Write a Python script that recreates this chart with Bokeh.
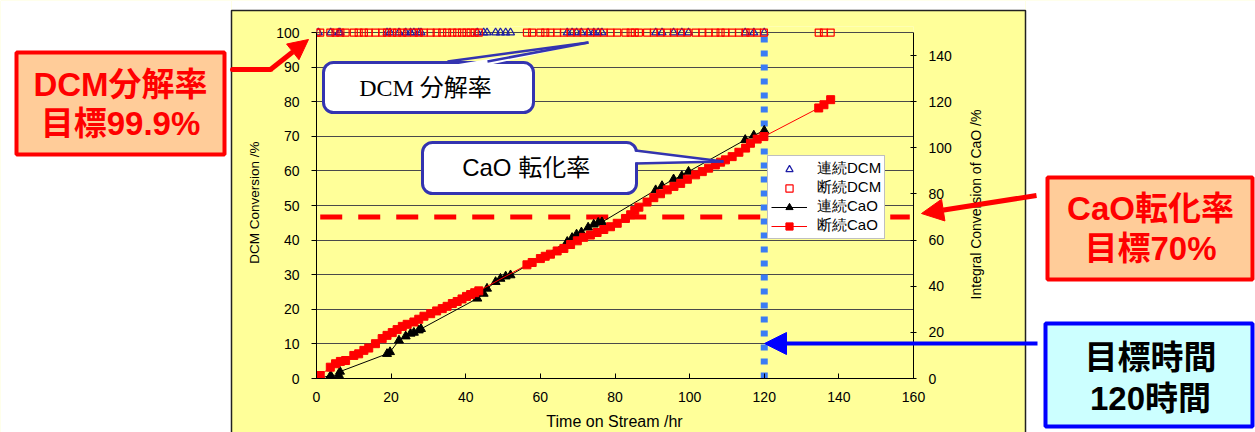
import math
from bokeh.plotting import figure
from bokeh.models import (ColumnDataSource, Range1d, LinearAxis, FixedTicker, BoxAnnotation,
                          PolyAnnotation, Label, Arrow, NormalHead, Legend, LegendItem, GridBox)
from bokeh.embed import file_html
from bokeh.resources import INLINE

# ---------------- data ----------------
# 断続 (intermittent) run: sampling times [hr], integral CaO conversion [%], DCM conversion [%]
t_int = [0.0, 1.0, 3.7, 5.1, 6.4, 7.8, 10.0, 11.3, 12.7, 14.0, 15.8, 17.6, 18.9, 20.3, 21.6,
         23.0, 24.3, 26.1, 27.4, 28.8, 30.6, 32.2, 33.7, 35.0, 36.4, 37.7, 39.0, 40.2, 41.3,
         42.4, 43.5, 56.4, 57.8, 60.0, 61.3, 62.7, 64.5, 66.3, 68.1, 69.9, 71.6, 73.4, 75.2,
         77.0, 78.8, 80.6, 82.8, 84.2, 85.3, 86.4, 88.6, 90.4, 92.2, 94.0, 95.8, 97.6, 99.4,
         101.6, 103.4, 105.1, 106.9, 108.3, 109.6, 111.4, 113.2, 115.0, 116.3, 118.1, 119.9,
         134.6, 136.0, 137.8]
cao_int = [0.6, 1.3, 4.9, 6.4, 7.4, 7.8, 10.0, 10.7, 12.2, 13.2, 15.1, 17.3, 18.7, 19.9, 21.2,
           22.6, 23.5, 24.5, 25.7, 27.0, 28.1, 29.3, 30.3, 31.3, 32.5, 33.4, 34.5, 35.6, 36.4,
           37.2, 38.0, 49.3, 50.3, 52.0, 53.0, 53.9, 55.3, 56.4, 58.1, 59.7, 61.2, 62.2, 63.3,
           64.6, 65.8, 67.3, 69.4, 71.0, 72.8, 74.3, 76.5, 78.4, 80.1, 81.8, 83.3, 84.6, 86.4,
           88.3, 89.7, 91.2, 92.6, 93.8, 94.8, 96.2, 98.1, 99.9, 102.0, 103.8, 104.9,
           117.3, 118.7, 120.9]
dcm_int = [100.0, 100.0, 100.0, 100.0, 100.0, 100.0, 100.0, 100.0, 100.0, 100.0, 100.0, 100.0,
           100.0, 100.0, 100.0, 100.0, 100.0, 100.0, 100.0, 100.0, 100.0, 100.0, 100.0, 100.0,
           100.0, 100.0, 100.0, 100.0, 100.0, 100.0, 100.0, 100.0, 100.0, 100.0, 100.0, 100.0,
           100.0, 100.0, 100.0, 100.0, 100.0, 100.0, 100.0, 100.0, 100.0, 100.0, 100.0, 100.0,
           100.0, 100.0, 100.0, 100.0, 100.0, 100.0, 100.0, 100.0, 100.0, 100.0, 100.0, 100.0,
           100.0, 100.0, 100.0, 100.0, 100.0, 100.0, 100.0, 100.0, 100.0, 100.0, 100.0, 100.0]

# 連続 (continuous) run
t_cont = [0.5, 3.8, 6.0, 6.3, 18.9, 19.7, 22.1, 23.9, 25.2, 26.1, 27.4, 28.0, 43.1, 44.8,
          45.7, 48.0, 49.3, 50.7, 52.0, 67.2, 68.5, 69.7, 71.0, 72.8, 74.3, 75.5, 76.5, 90.9,
          92.6, 95.7, 97.9, 99.7, 114.9, 117.2, 120.0]
cao_cont = [0.0, 1.3, 1.5, 3.0, 10.7, 11.5, 16.5, 18.3, 19.5, 19.9, 20.9, 21.5, 34.7, 36.8,
            39.0, 41.9, 43.3, 44.3, 44.8, 59.3, 61.0, 62.5, 63.4, 65.5, 66.8, 67.6, 67.8, 81.7,
            83.5, 86.4, 87.8, 89.7, 103.5, 105.4, 107.5]
dcm_cont = [100.0, 100.0, 100.0, 100.0, 100.0, 100.0, 100.0, 100.0, 100.0, 100.0, 100.0, 100.0,
            100.0, 100.0, 100.0, 100.0, 100.0, 100.0, 100.0, 100.0, 100.0, 100.0, 100.0, 100.0,
            100.0, 100.0, 100.0, 100.0, 100.0, 100.0, 100.0, 100.0, 100.0, 100.0, 100.0]

target_time = [120.0]   # 目標時間
target_cao = [70.0]     # CaO転化率 目標
x_ticks = [0, 20, 40, 60, 80, 100, 120, 140, 160]
dcm_ticks = [0, 10, 20, 30, 40, 50, 60, 70, 80, 90, 100]
cao_ticks = [0, 20, 40, 60, 80, 100, 120, 140]
legend_labels = ["連続DCM", "断続DCM", "連続CaO", "断続CaO"]

# ---------------- styling ----------------
YEL = "#ffff99"
SANS = "Liberation Sans"
JP = "'Liberation Sans', 'Noto Sans CJK JP'"
JPSERIF = "'Liberation Serif', 'Noto Sans CJK JP'"
CALLOUT = "#3434b0"
W, H = 1255, 432

# ================= main chart =================
p = figure(width=W, height=H, output_backend="svg", toolbar_location=None,
           x_range=Range1d(0, 160), y_range=Range1d(0, 101.75),
           min_border_left=316, min_border_right=342, min_border_top=26, min_border_bottom=54,
           background_fill_color=YEL, border_fill_color=YEL, outline_line_color=None)
p.extra_y_ranges = {"cao": Range1d(0, 152.625)}

xa = p.xaxis[0]
xa.ticker = FixedTicker(ticks=x_ticks)
xa.major_tick_in = 5
xa.major_tick_out = 0
xa.minor_tick_line_color = None
xa.axis_line_color = "black"
xa.major_tick_line_color = "black"
xa.major_label_text_font = SANS
xa.major_label_text_font_size = "14px"
xa.major_label_text_color = "black"
xa.major_label_standoff = 13

ya = p.yaxis[0]
ya.ticker = FixedTicker(ticks=dcm_ticks)
ya.bounds = (0, 100)
ya.major_tick_in = 0
ya.major_tick_out = 5
ya.minor_tick_line_color = None
ya.axis_line_color = "black"
ya.major_tick_line_color = "black"
ya.major_label_text_font = SANS
ya.major_label_text_font_size = "14px"
ya.major_label_text_color = "black"
ya.major_label_standoff = 12
ya.axis_label = "DCM Conversion /%"
ya.axis_label_text_font = SANS
ya.axis_label_text_font_size = "13.5px"
ya.axis_label_text_font_style = "normal"
ya.axis_label_text_color = "black"
ya.axis_label_standoff = 11

ra = LinearAxis(y_range_name="cao", ticker=FixedTicker(ticks=cao_ticks), bounds=(0, 150),
                major_tick_in=3, major_tick_out=3, minor_tick_line_color=None,
                axis_line_color="black", major_tick_line_color="black",
                major_label_text_font=SANS, major_label_text_font_size="14px",
                major_label_text_color="black", major_label_standoff=12)
p.add_layout(ra, "right")

p.xgrid.visible = False
p.ygrid.ticker = FixedTicker(ticks=dcm_ticks)
p.ygrid.grid_line_color = "#4a4a4a"
p.ygrid.grid_line_width = 1

# target lines
p.segment(x0=target_time, y0=[dcm_ticks[0]], x1=target_time, y1=[dcm_ticks[-1]],
          line_color="#3b7cf5", line_width=7, line_dash="6 8")
p.segment(x0=[1.0], y0=target_cao, x1=[159.0], y1=target_cao, y_range_name="cao",
          line_color="#ff0000", line_width=5, line_dash="22 16")

src_int = ColumnDataSource(dict(t=t_int, cao=cao_int, dcm=dcm_int))
src_cont = ColumnDataSource(dict(t=t_cont, cao=cao_cont, dcm=dcm_cont))

r_dc = p.scatter("t", "dcm", source=src_cont, marker="triangle", size=8, fill_color=None,
                 line_color="#1c1ca6", line_width=1.2)
r_di = p.scatter("t", "dcm", source=src_int, marker="square", size=7, fill_color=None,
                 line_color="#ff0000", line_width=1.2)
r_cc_l = p.line("t", "cao", source=src_cont, y_range_name="cao", line_color="black", line_width=1)
r_cc_p = p.scatter("t", "cao", source=src_cont, y_range_name="cao", marker="triangle", size=9,
                   fill_color="black", line_color="black")
r_ci_l = p.line("t", "cao", source=src_int, y_range_name="cao", line_color="#ff0000", line_width=1)
r_ci_p = p.scatter("t", "cao", source=src_int, y_range_name="cao", marker="square", size=8,
                   fill_color="#ff0000", line_color="#ff0000")

legend = Legend(items=[LegendItem(label=legend_labels[0], renderers=[r_dc]),
                       LegendItem(label=legend_labels[1], renderers=[r_di]),
                       LegendItem(label=legend_labels[2], renderers=[r_cc_l, r_cc_p]),
                       LegendItem(label=legend_labels[3], renderers=[r_ci_l, r_ci_p])],
                location=(451, 139), background_fill_color="white", background_fill_alpha=1.0,
                border_line_color="#808080", border_line_width=1, padding=3, spacing=0, margin=0,
                label_height=18, glyph_height=18, glyph_width=36, label_standoff=10,
                label_text_font=SANS, label_text_font_size="15px", label_text_color="black",
                label_text_line_height=1.0)
p.add_layout(legend, "center")

# ================= overlay (page-pixel coordinates) =================
fg = figure(width=W, height=H, output_backend="svg", toolbar_location=None,
            x_range=Range1d(0, W), y_range=Range1d(0, H), x_axis_type=None, y_axis_type=None,
            min_border=0, background_fill_color=None, border_fill_color=None,
            outline_line_color=None)


def fy(y):
    return H - y


# white page outside the yellow panel, and the panel's border
fg.quad(left=[0, 1025, 231], right=[231, W, 1025], bottom=[0, 0, fy(10)], top=[H, H, H],
        fill_color="white", line_color=None)
fg.line(x=[231, 231, 1025, 1025], y=[0, fy(10), fy(10), 0], line_color="#222222", line_width=1.5)


def box(l, t, r, b, fill, line, lw, radius=0):
    fg.add_layout(BoxAnnotation(left=l, right=r, top=fy(t), bottom=fy(b), fill_color=fill,
                                fill_alpha=1.0, line_color=line, line_alpha=1.0, line_width=lw,
                                border_radius=radius))


def text(x, y, s, size, color="black", font=JP, style="normal", angle=0.0):
    fg.add_layout(Label(x=x, y=fy(y), text=s, text_align="center", text_baseline="middle",
                        text_font=font, text_font_size=size, text_color=color,
                        text_font_style=style, angle=angle))


def arrow(x0, y0, x1, y1, color, width, head=None, cap="butt"):
    end = NormalHead(size=head, fill_color=color, line_color=color, line_width=1) if head else None
    fg.add_layout(Arrow(x_start=x0, y_start=fy(y0), x_end=x1, y_end=fy(y1), line_color=color,
                        line_width=width, line_cap=cap, end=end))


def pointer(xs, ys, edges):
    fg.add_layout(PolyAnnotation(xs=xs, ys=[fy(v) for v in ys], fill_color="white",
                                 fill_alpha=1.0, line_alpha=0.0))
    for (a, b, c, d) in edges:
        arrow(a, b, c, d, CALLOUT, 2.5)


# axis titles drawn at the reference positions
text(614, 421, "Time on Stream /hr", "16px", font=SANS)
text(975, 204, "Integral Conversion of CaO /%", "14px", font=SANS, angle=math.pi / 2)

# callout: DCM 分解率
box(323, 62, 533, 112, "white", CALLOUT, 3, 10)
pointer([449, 588, 486], [65, 42, 65], [(447, 61, 588, 42), (487, 61, 588, 42)])
text(428, 87, "DCM  分解率", "24px", font=JPSERIF)

# callout: CaO 転化率
box(422, 142, 636, 193, "white", CALLOUT, 3, 10)
pointer([633, 723, 633], [151, 161, 162], [(635, 150, 723, 161), (635, 163, 723, 161)])
text(529, 167, "CaO  転化率", "24px")

# left target box
box(16, 52, 224, 154, "#ffcc99", "#ff0000", 4)
text(120, 84, "DCM分解率", "33px", color="#ff0000", style="bold")
text(120, 123, "目標99.9%", "33px", color="#ff0000", style="bold")
arrow(232, 69, 270, 69, "#ff0000", 5, cap="round")
arrow(270, 69, 308, 39, "#ff0000", 5, head=20)

# right target box (CaO)
box(1047, 177, 1252, 279, "#ffcc99", "#ff0000", 4)
text(1150, 208, "CaO転化率", "33px", color="#ff0000", style="bold")
text(1150, 248, "目標70%", "33px", color="#ff0000", style="bold")
arrow(1036, 195, 921, 213, "#ff0000", 5, head=22)

# target time box
box(1045, 323, 1252, 426, "#ccffff", "#0000ff", 4)
text(1150, 357, "目標時間", "33px", style="bold")
text(1150, 398, "120時間", "33px", style="bold")
arrow(1037, 343, 764, 343, "#0000ff", 4, head=22)

# the chart sits in the middle cell; the overlay spans the whole grid so that its frame is not
# aligned to the chart's frame
layout = GridBox(children=[(p, 1, 1, 1, 1), (fg, 0, 0, 3, 3)], spacing=0)
open("out.html", "w").write(file_html(layout, INLINE))
